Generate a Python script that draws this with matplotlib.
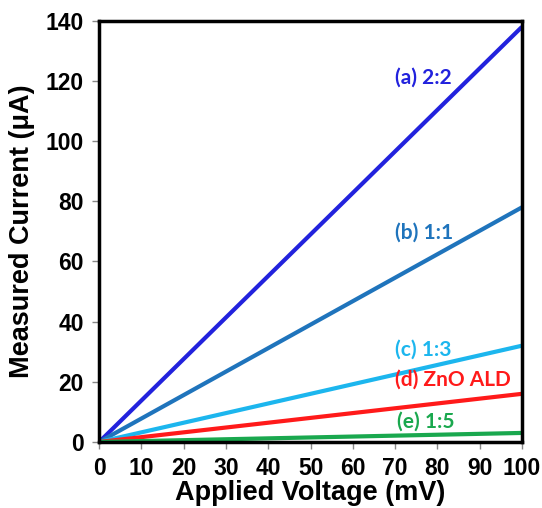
import matplotlib
matplotlib.use('Agg')
import matplotlib.pyplot as plt

voltage = [0, 100]
cur_a = [0, 138]
cur_b = [0, 78]
cur_c = [0, 32]
cur_d = [0, 16]
cur_e = [0, 3]
labels = ['(a) 2:2', '(b) 1:1', '(c) 1:3', '(d) ZnO ALD', '(e) 1:5']
colors = ['#2222DD', '#1F74BC', '#1CB6EE', '#FF1A1A', '#1AA84E']
label_x = [70, 70, 70, 70, 70.5]
label_y = [121, 69.5, 30.6, 20.8, 6.6]

plt.rcParams['font.family'] = ['Liberation Sans', 'DejaVu Sans']

fig = plt.figure(figsize=(5.42, 5.08), dpi=100)
ax = fig.add_axes([0.183, 0.130, 0.780, 0.829])

for cur, c in zip([cur_a, cur_b, cur_c, cur_d, cur_e], colors):
    ax.plot(voltage, cur, color=c, lw=3, solid_capstyle='butt')

for t, x, y, c in zip(labels, label_x, label_y, colors):
    ax.text(x, y, t, color=c, fontsize=15, fontweight='bold', family=['Lato', 'DejaVu Sans'],
            ha='left', va='center')

ax.set_xlim(0, 100)
ax.set_ylim(0, 140)
ax.set_xticks(range(0, 101, 10))
ax.set_yticks(range(0, 141, 20))
for s in ax.spines.values():
    s.set_linewidth(2.5)
    s.set_color('black')
ax.tick_params(direction='out', length=5, width=1, color='#888888', labelsize=16.5, pad=6)
for lb in ax.get_xticklabels() + ax.get_yticklabels():
    lb.set_fontweight('bold')
ax.set_xlabel('Applied Voltage (mV)', fontsize=19.5, fontweight='bold', labelpad=0)
ax.set_ylabel('Measured Current (\u03bcA)', fontsize=19.5, fontweight='bold', labelpad=8)

fig.savefig('out.png', dpi=100)
